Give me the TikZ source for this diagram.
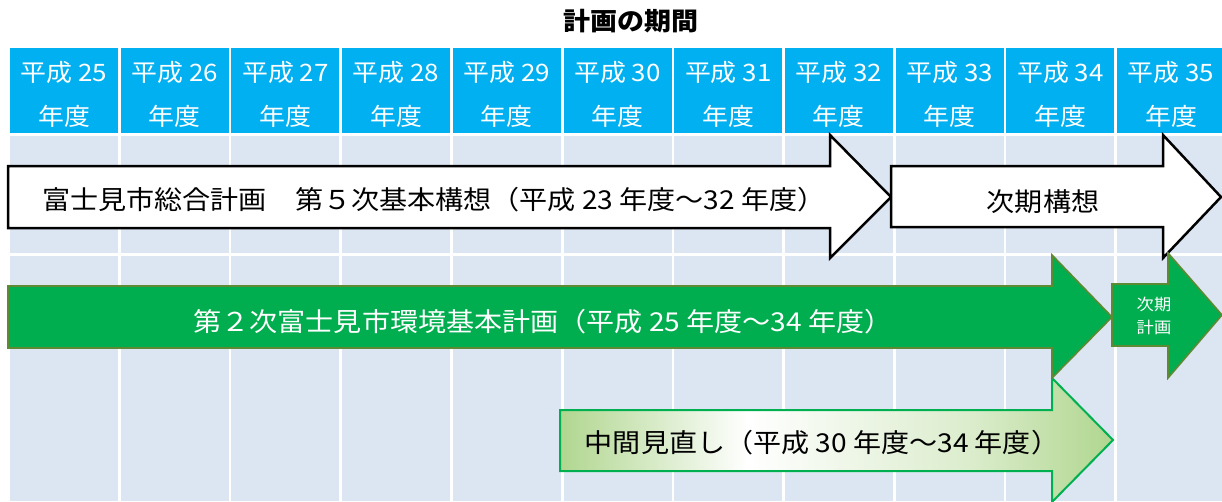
\documentclass[tikz,border=0pt]{standalone}
\usepackage{fontspec}
\setmainfont{Noto Sans CJK JP}[FakeStretch=1.08]
\definecolor{hdr}{RGB}{0,176,240}
\definecolor{cellbg}{RGB}{220,230,242}
\definecolor{grn}{RGB}{0,173,79}
\definecolor{grnedge}{RGB}{94,138,52}
\definecolor{lgrn}{RGB}{176,214,143}
\definecolor{lgedge}{RGB}{0,176,80}
\pgfdeclarehorizontalshading{midgreen}{100bp}{color(0bp)=(lgrn); color(25bp)=(lgrn); color(42bp)=(white); color(62bp)=(lgrn!45); color(75bp)=(lgrn); color(100bp)=(lgrn)}
\tikzset{
  hdrtxt/.style={text=white, inner sep=0pt, align=center, font=\fontsize{24}{44}\selectfont},
  bigtxt/.style={font=\fontsize{26}{30}\selectfont, inner sep=0pt},
  whitearrow/.style={fill=white, draw=black, line width=2.5pt, line join=miter},
  greenarrow/.style={fill=grn, draw=grnedge, line width=1.6pt, line join=miter},
  lgarrow/.style={shading=midgreen, draw=lgedge, line width=2pt, line join=miter},
}
\begin{document}
\begin{tikzpicture}[x=1pt,y=-1pt]
\useasboundingbox (0,0) rectangle (1222,501);
\fill[white] (0,0) rectangle (1222,501);
\node[font=\bfseries\fontsize{25}{28}\selectfont, inner sep=0pt] (title) at (631,21) {計画の期間};
\foreach \i [evaluate=\i as \yr using int(25+\i)] in {0,...,10}{
  \fill[hdr] ({10+110.7*\i},48) rectangle ({118+110.7*\i},133);
  \node[hdrtxt] (h\i) at ({64+110.7*\i},94) {平成 \yr\\年度};
  \fill[cellbg] ({10+110.7*\i},136) rectangle ({118+110.7*\i},253);
  \fill[cellbg] ({10+110.7*\i},256) rectangle ({118+110.7*\i},501);
}
% white arrows
\draw[whitearrow] (8,166) -- (830,166) -- (830,135) -- (891,197) -- (830,258) -- (830,228) -- (8,228) -- cycle;
\draw[whitearrow] (891,166) -- (1163,166) -- (1163,135) -- (1221,197) -- (1163,258) -- (1163,227) -- (891,227) -- cycle;
\node[bigtxt] (a1) at (434,200) {富士見市総合計画　第５次基本構想（平成 23 年度～32 年度）};
\node[bigtxt] (a2) at (1043,202) {次期構想};
% light green arrow
\draw[lgarrow] (560,410) -- (1052,410) -- (1052,378) -- (1113,440) -- (1052,502) -- (1052,471) -- (560,471) -- cycle;
\node[bigtxt] (a5) at (822,443) {中間見直し（平成 30 年度～34 年度）};
% green arrows
\draw[greenarrow] (8,286) -- (1052,286) -- (1052,255) -- (1112,317) -- (1052,378) -- (1052,348) -- (8,348) -- cycle;
\node[bigtxt, text=white] (a3) at (543,322) {第２次富士見市環境基本計画（平成 25 年度～34 年度）};
\draw[greenarrow] (1112,284) -- (1168,284) -- (1168,253) -- (1222,315) -- (1168,378) -- (1168,346) -- (1112,346) -- cycle;
\node[text=white, align=center, inner sep=0pt, font=\fontsize{16}{23}\selectfont] (a4) at (1154,316) {次期\\計画};
\end{tikzpicture}
\end{document}
